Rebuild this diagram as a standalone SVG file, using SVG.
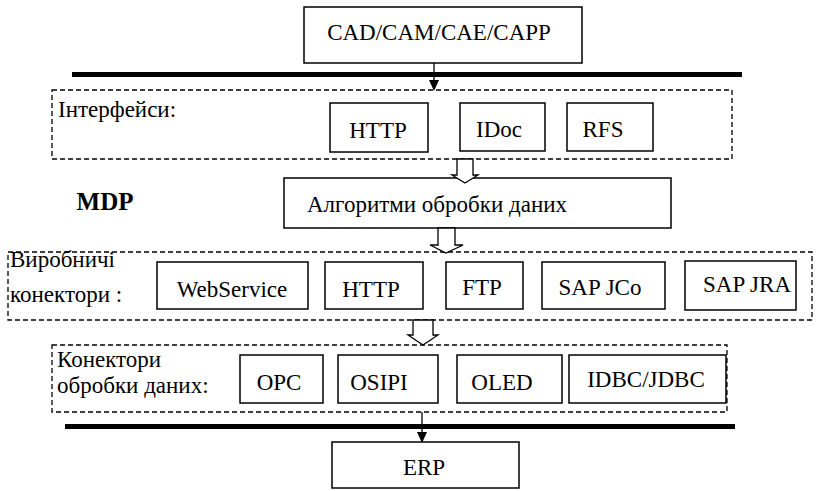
<svg xmlns="http://www.w3.org/2000/svg" width="819" height="491" viewBox="0 0 819 491">
<rect width="819" height="491" fill="#fff"/>

<g id="cad">
<rect x="304" y="7" width="278" height="56" fill="#fff" stroke="#000" stroke-width="1.5"/>
<text x="439" y="40" font-family="Liberation Serif" font-size="23" text-anchor="middle">CAD/CAM/CAE/CAPP</text>
</g>

<g id="interfaces">
<rect x="52" y="90" width="680" height="69" fill="none" stroke="#000" stroke-width="1.3" stroke-dasharray="5,3"/>
<text x="58" y="117" font-family="Liberation Serif" font-size="23">Інтерфейси:</text>
</g>
<g id="if-http">
<rect x="330" y="103" width="98" height="49" fill="#fff" stroke="#000" stroke-width="1.5"/>
<text x="378" y="138" font-family="Liberation Serif" font-size="23" text-anchor="middle">HTTP</text>
</g>
<g id="if-idoc">
<rect x="460" y="103" width="85" height="48" fill="#fff" stroke="#000" stroke-width="1.5"/>
<text x="499" y="137" font-family="Liberation Serif" font-size="23" text-anchor="middle">IDoc</text>
</g>
<g id="if-rfs">
<rect x="567" y="103" width="86" height="48" fill="#fff" stroke="#000" stroke-width="1.5"/>
<text x="603" y="137" font-family="Liberation Serif" font-size="23" text-anchor="middle">RFS</text>
</g>

<g id="mdp">
<text x="105" y="210" font-family="Liberation Serif" font-size="25" font-weight="bold" text-anchor="middle">MDP</text>
</g>

<g id="algorithms">
<rect x="284" y="178" width="387" height="50" fill="#fff" stroke="#000" stroke-width="1.5"/>
<text x="437" y="212" font-family="Liberation Serif" font-size="23" text-anchor="middle">Алгоритми обробки даних</text>
</g>

<g id="prod-connectors">
<rect x="8" y="252" width="804" height="68" fill="none" stroke="#000" stroke-width="1.3" stroke-dasharray="5,3"/>
<text x="10" y="267" font-family="Liberation Serif" font-size="23">Виробничі</text>
<text x="10" y="302" font-family="Liberation Serif" font-size="23">конектори :</text>
</g>
<g id="pc-webservice">
<rect x="157" y="262" width="151" height="47" fill="#fff" stroke="#000" stroke-width="1.5"/>
<text x="232" y="297" font-family="Liberation Serif" font-size="23" text-anchor="middle">WebService</text>
</g>
<g id="pc-http">
<rect x="325" y="262" width="98" height="47" fill="#fff" stroke="#000" stroke-width="1.5"/>
<text x="371" y="297" font-family="Liberation Serif" font-size="23" text-anchor="middle">HTTP</text>
</g>
<g id="pc-ftp">
<rect x="446" y="262" width="77" height="47" fill="#fff" stroke="#000" stroke-width="1.5"/>
<text x="482" y="295" font-family="Liberation Serif" font-size="23" text-anchor="middle">FTP</text>
</g>
<g id="pc-sapjco">
<rect x="542" y="262" width="123" height="47" fill="#fff" stroke="#000" stroke-width="1.5"/>
<text x="600" y="295" font-family="Liberation Serif" font-size="23" text-anchor="middle">SAP JCo</text>
</g>
<g id="pc-sapjra">
<rect x="685" y="261" width="111" height="49" fill="#fff" stroke="#000" stroke-width="1.5"/>
<text x="747" y="292" font-family="Liberation Serif" font-size="23" text-anchor="middle">SAP JRA</text>
</g>

<g id="data-connectors">
<rect x="52" y="345" width="675" height="67" fill="none" stroke="#000" stroke-width="1.3" stroke-dasharray="5,3"/>
<text x="57" y="367" font-family="Liberation Serif" font-size="23">Конектори</text>
<text x="57" y="393" font-family="Liberation Serif" font-size="23">обробки даних:</text>
</g>
<g id="dc-opc">
<rect x="240" y="355" width="83" height="48" fill="#fff" stroke="#000" stroke-width="1.5"/>
<text x="279" y="390" font-family="Liberation Serif" font-size="23" text-anchor="middle">OPC</text>
</g>
<g id="dc-osipi">
<rect x="338" y="355" width="100" height="48" fill="#fff" stroke="#000" stroke-width="1.5"/>
<text x="379" y="390" font-family="Liberation Serif" font-size="23" text-anchor="middle">OSIPI</text>
</g>
<g id="dc-oled">
<rect x="457" y="355" width="105" height="48" fill="#fff" stroke="#000" stroke-width="1.5"/>
<text x="502" y="390" font-family="Liberation Serif" font-size="23" text-anchor="middle">OLED</text>
</g>
<g id="dc-idbc">
<rect x="569" y="355" width="157" height="48" fill="#fff" stroke="#000" stroke-width="1.5"/>
<text x="646" y="387" font-family="Liberation Serif" font-size="23" text-anchor="middle">IDBC/JDBC</text>
</g>

<g id="erp">
<rect x="332" y="442" width="187" height="46" fill="#fff" stroke="#000" stroke-width="1.5"/>
<text x="424" y="475" font-family="Liberation Serif" font-size="23" text-anchor="middle">ERP</text>
</g>

<g id="connectors" stroke="#000">
<line x1="72" y1="74.5" x2="742" y2="74.5" stroke-width="5"/>
<line x1="65" y1="426.5" x2="735" y2="426.5" stroke-width="5"/>
<line x1="434" y1="63" x2="434" y2="82" stroke-width="1.3"/>
<polygon points="429,80 439,80 434,91" fill="#000" stroke="none"/>
<line x1="422" y1="412" x2="422" y2="434" stroke-width="1.3"/>
<polygon points="417,432 427,432 422,443" fill="#000" stroke="none"/>
<g fill="#fff" stroke-width="1.3">
<polygon points="457,159 457,175 452,175 465,183 478,175 473,175 473,159"/>
<polygon points="438,228 438,245 430,245 446,253 463,245 455,245 455,228"/>
<polygon points="413,320 413,335 408,335 423,345 438,335 433,335 433,320"/>
</g>
</g>
</svg>
